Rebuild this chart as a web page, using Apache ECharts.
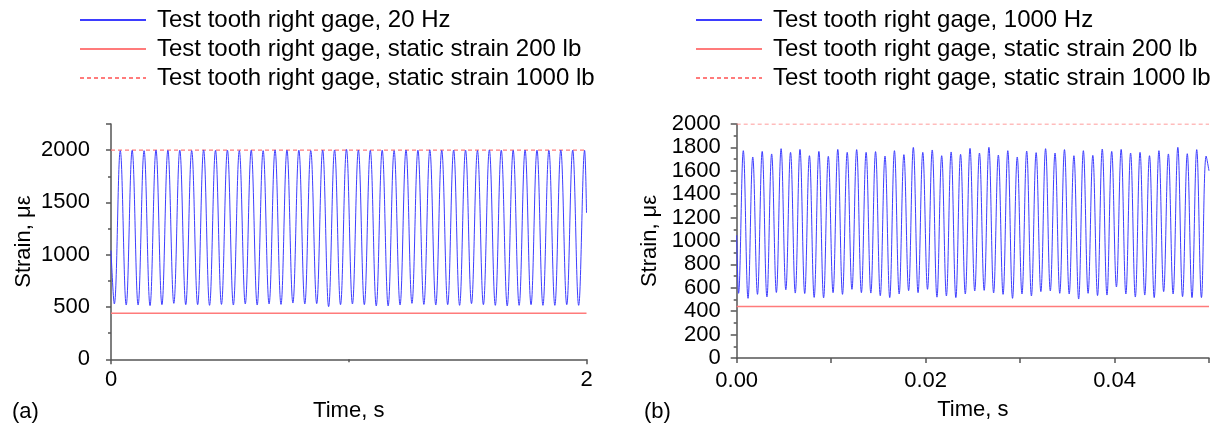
<!DOCTYPE html>
<html><head><meta charset="utf-8">
<script src="https://cdn.jsdelivr.net/npm/echarts@6/dist/echarts.min.js"></script>
<style>html,body{margin:0;padding:0;background:#fff}#c{width:1212px;height:432px}</style>
</head><body><div id="c"></div>
<script>
// ---------- names ----------
const namesA = ['Test tooth right gage, 20 Hz', 'Test tooth right gage, static strain 200 lb', 'Test tooth right gage, static strain 1000 lb'];
const namesB = ['Test tooth right gage, 1000 Hz', 'Test tooth right gage, static strain 200 lb', 'Test tooth right gage, static strain 1000 lb'];

// ---------- static strains (µε) ----------
const staticStrain200 = 440;
const staticStrain1000 = 2000;

// ---------- (a) 20 Hz record: extrema ----------
const timeRangeA = [0, 2];
const startValueA = 1040;          // value at t = 0
const endValueA = 1400;            // value at t = 2 s
const firstTroughTimeA = 0.0139;   // s
const halfPeriodA = 0.02504;       // s, trough -> peak
const troughsA = [529, 519, 519, 513, 522, 535, 522, 522, 516, 525, 519, 529, 519, 529, 525, 538, 529, 532, 503, 522,
                  529, 522, 510, 510, 519, 535, 525, 519, 522, 516, 532, 522, 516, 510, 516, 522, 516, 516, 522, 516];
const peaksA   = [1995, 1998, 1995, 2000, 1998, 2000, 1995, 2002, 1998, 2000, 1995, 2000, 1995, 2002, 2000, 2000, 1995, 2000, 2002, 2008,
                  2000, 1998, 2000, 1995, 2001, 2000, 2003, 1998, 2001, 2000, 1996, 2002, 2000, 1998, 2001, 2000, 1997, 2001, 2000, 1998];

// ---------- (b) 1000 Hz record ----------
const timeRangeB = [0, 0.05];
const startValueB = 1050;
const endValueB = 1600;
const firstTroughTimeB = 0.0002;
const halfPeriodB = 0.0005;
const troughsB = [553, 510, 544, 522, 560, 583, 555, 551, 518, 514, 558, 544, 587, 558, 555, 532, 516, 547, 575, 558, 587, 520, 530, 516, 547,
                  573, 578, 556, 544, 510, 547, 530, 567, 573, 553, 547, 504, 553, 533, 538, 607, 547, 521, 538, 516, 567, 547, 524, 516, 516];
const peaksB   = [1772, 1718, 1766, 1744, 1789, 1758, 1783, 1729, 1766, 1724, 1783, 1758, 1781, 1758, 1764, 1726, 1772, 1738, 1800, 1758, 1778, 1729, 1761, 1741,
                  1792, 1752, 1801, 1735, 1772, 1718, 1769, 1755, 1789, 1752, 1781, 1729, 1772, 1732, 1786, 1766, 1783, 1752, 1758, 1729, 1772, 1744, 1801, 1746, 1781, 1726];

// ---------- tick labels ----------
const yTicksA = [0, 500, 1000, 1500, 2000];
const xLabelsA = [0, 2];
const xLabelsB = [0, 0.02, 0.04];

// build [t, value] pairs: start, trough, peak, trough, peak, ..., end
function buildRecord(range, v0, t0, half, troughs, peaks, vEnd) {
  const pts = [[range[0], v0]];
  for (let i = 0; i < troughs.length; i++) {
    pts.push([t0 + 2 * i * half, troughs[i]]);
    pts.push([t0 + (2 * i + 1) * half, peaks[i]]);
  }
  pts.push([range[1], vEnd]);
  return pts;
}
const recA = buildRecord(timeRangeA, startValueA, firstTroughTimeA, halfPeriodA, troughsA, peaksA, endValueA);
const recB = buildRecord(timeRangeB, startValueB, firstTroughTimeB, halfPeriodB, troughsB, peaksB, endValueB);

const FONT = 'Liberation Sans, Arial, sans-serif';
const FS = 22;
const LFS = 24;
const AX = '#555';
const BLUE = '#3d3dff';
const RED = '#ff7b7b';

function axisCommon() {
  return {
    axisLine: {show: true, onZero: false, lineStyle: {color: AX, width: 1.5}},
    axisTick: {show: true, inside: false, length: 5, lineStyle: {color: AX, width: 1.5}},
    splitLine: {show: false},
    axisLabel: {fontSize: FS, color: '#000', fontFamily: FONT},
    nameTextStyle: {fontSize: FS, color: '#000', fontFamily: FONT}
  };
}

function legendOf(names, left) {
  return {left: left, top: 3, orient: 'vertical', itemWidth: 66, itemHeight: 14, itemGap: 5, selectedMode: false,
          itemStyle: {opacity: 0},
          data: names, textStyle: {fontSize: LFS, color: '#000', fontFamily: FONT, lineHeight: 24, padding: [0, 0, 0, 6]}};
}

const chart = echarts.init(document.getElementById('c'), null, {renderer: 'canvas'});
const option = {
  animation: false,
  backgroundColor: '#fff',
  textStyle: {fontFamily: FONT},
  legend: [legendOf(namesA, 74), legendOf(namesB, 690)],
  grid: [
    {left: 111, top: 124, width: 475.5, height: 235.3},
    {left: 736.7, top: 124, width: 474.3, height: 234}
  ],
  xAxis: [
    Object.assign(axisCommon(), {
      gridIndex: 0, type: 'value', min: timeRangeA[0], max: timeRangeA[1], interval: 2,
      minorTick: {show: true, splitNumber: 2, length: 3, lineStyle: {color: AX, width: 1.5}},
      name: 'Time, s', nameLocation: 'middle', nameGap: 41
    }),
    Object.assign(axisCommon(), {
      gridIndex: 1, type: 'value', min: timeRangeB[0], max: timeRangeB[1], interval: 0.01,
      name: 'Time, s', nameLocation: 'middle', nameGap: 41
    })
  ],
  yAxis: [
    Object.assign(axisCommon(), {
      gridIndex: 0, type: 'value', min: 0, max: 2250, interval: 500,
      name: 'Strain, \u03bc\u03b5', nameLocation: 'middle', nameGap: 76
    }),
    {
      gridIndex: 0, type: 'value', min: 0, max: 2250, interval: 250, position: 'left',
      axisLine: {show: false}, axisLabel: {show: false}, splitLine: {show: false},
      axisTick: {show: true, length: 3, lineStyle: {color: AX, width: 1.5}}
    },
    Object.assign(axisCommon(), {
      gridIndex: 1, type: 'value', min: 0, max: 2000, interval: 200,
      minorTick: {show: true, splitNumber: 2, length: 3, lineStyle: {color: AX, width: 1.5}},
      name: 'Strain, \u03bc\u03b5', nameLocation: 'middle', nameGap: 76
    })
  ],
  graphic: [
    {type: 'text', left: 12, top: 401, style: {text: '(a)', fontSize: FS, fill: '#000', fontFamily: FONT}},
    {type: 'text', left: 644, top: 401, style: {text: '(b)', fontSize: FS, fill: '#000', fontFamily: FONT}}
  ],
  series: [
    {name: namesA[0], type: 'line', xAxisIndex: 0, yAxisIndex: 0, data: recA, showSymbol: false, symbol: 'none',
     smooth: 0.4, lineStyle: {color: BLUE, width: 1}, itemStyle: {color: BLUE}, z: 3},
    {name: namesA[1], type: 'line', xAxisIndex: 0, yAxisIndex: 0, data: [[timeRangeA[0], staticStrain200], [timeRangeA[1], staticStrain200]],
     symbol: 'none', lineStyle: {color: RED, width: 1.5}, itemStyle: {color: RED}, z: 2},
    {name: namesA[2], type: 'line', xAxisIndex: 0, yAxisIndex: 0, data: [[timeRangeA[0], staticStrain1000], [timeRangeA[1], staticStrain1000]],
     symbol: 'none', lineStyle: {color: RED, width: 1.2, type: [4, 3]}, itemStyle: {color: RED}, z: 2},
    {name: namesB[0], type: 'line', xAxisIndex: 1, yAxisIndex: 2, data: recB, showSymbol: false, symbol: 'none',
     smooth: 0.4, lineStyle: {color: BLUE, width: 1}, itemStyle: {color: BLUE}, z: 3},
    {name: namesB[1], type: 'line', xAxisIndex: 1, yAxisIndex: 2, data: [[timeRangeB[0], staticStrain200], [timeRangeB[1], staticStrain200]],
     symbol: 'none', lineStyle: {color: RED, width: 1.5}, itemStyle: {color: RED}, z: 2},
    {name: namesB[2], type: 'line', xAxisIndex: 1, yAxisIndex: 2, data: [[timeRangeB[0], staticStrain1000], [timeRangeB[1], staticStrain1000]],
     symbol: 'none', lineStyle: {color: RED, width: 1.2, type: [4, 3]}, itemStyle: {color: RED}, z: 2}
  ]
};

// label formatters from tick-label lists
option.xAxis[0].axisLabel.formatter = v => xLabelsA.includes(v) ? String(v) : '';
option.xAxis[0].axisLabel.margin = 10;
option.xAxis[1].axisLabel.formatter = v => xLabelsB.some(x => Math.abs(x - v) < 1e-9) ? v.toFixed(2) : '';
option.xAxis[1].axisLabel.margin = 12;
option.yAxis[0].axisLabel.formatter = v => yTicksA.includes(v) ? String(v) : '';
option.yAxis[0].axisLabel.margin = 21;
option.yAxis[2].axisLabel.formatter = v => String(v);
option.yAxis[2].axisLabel.margin = 16;
option.yAxis[2].axisTick.length = 6;

chart.setOption(option);
</script>
</body></html>
